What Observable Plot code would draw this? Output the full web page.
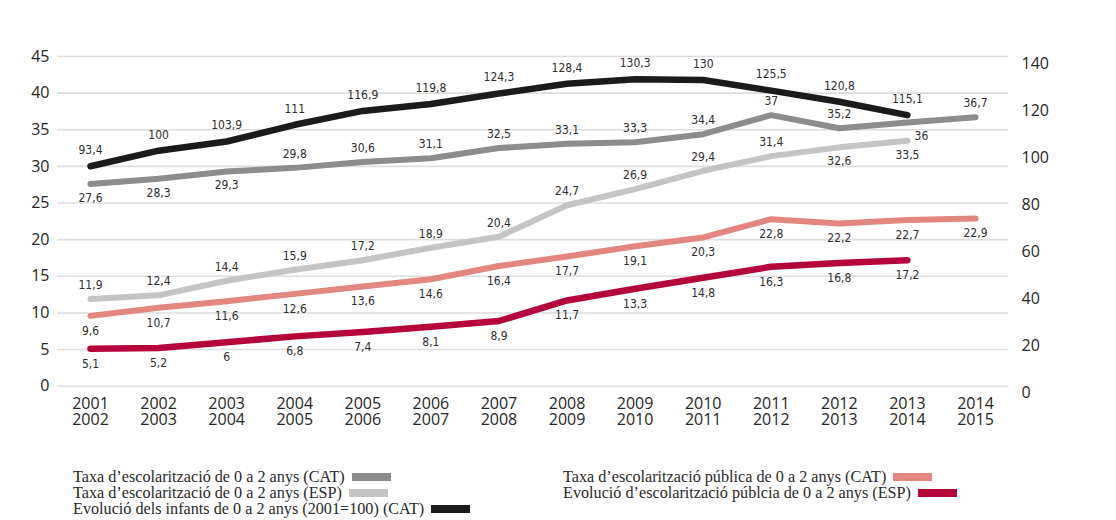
<!DOCTYPE html>
<html>
<head>
<meta charset="utf-8">
<script src="https://cdn.jsdelivr.net/npm/d3@7"></script>
<script src="https://cdn.jsdelivr.net/npm/@observablehq/plot@0.6"></script>
<style>
  html, body { margin: 0; padding: 0; background: #fff; }
  #wrap { position: relative; width: 1116px; height: 520px; overflow: hidden; background: #fff; }
  .leg { position: absolute; font-family: "Liberation Serif", "Times New Roman", serif; font-size: 16.2px; color: #2a2a2a; line-height: 16px; white-space: nowrap; }
  .leg div { height: 16px; }
  .sw { display: inline-block; width: 39px; height: 8px; margin-left: 7px; vertical-align: middle; position: relative; top: -1px; }
</style>
</head>
<body>
<div id="wrap"></div>
<script>
// ---- data ----
const years = [2001, 2002, 2003, 2004, 2005, 2006, 2007, 2008, 2009, 2010, 2011, 2012, 2013, 2014];
const xTickLabels = ["2001\n2002", "2002\n2003", "2003\n2004", "2004\n2005", "2005\n2006", "2006\n2007", "2007\n2008",
  "2008\n2009", "2009\n2010", "2010\n2011", "2011\n2012", "2012\n2013", "2013\n2014", "2014\n2015"];
const catRate = [27.6, 28.3, 29.3, 29.8, 30.6, 31.1, 32.5, 33.1, 33.3, 34.4, 37, 35.2, 36, 36.7];
const espRate = [11.9, 12.4, 14.4, 15.9, 17.2, 18.9, 20.4, 24.7, 26.9, 29.4, 31.4, 32.6, 33.5];
const catPublic = [9.6, 10.7, 11.6, 12.6, 13.6, 14.6, 16.4, 17.7, 19.1, 20.3, 22.8, 22.2, 22.7, 22.9];
const espPublic = [5.1, 5.2, 6, 6.8, 7.4, 8.1, 8.9, 11.7, 13.3, 14.8, 16.3, 16.8, 17.2];
const childrenIndex = [93.4, 100, 103.9, 111, 116.9, 119.8, 124.3, 128.4, 130.3, 130, 125.5, 120.8, 115.1];
const leftTicks = [0, 5, 10, 15, 20, 25, 30, 35, 40, 45];
const rightTicks = [0, 20, 40, 60, 80, 100, 120, 140];
const seriesNames = [
  "Taxa d\u2019escolarització de 0 a 2 anys (CAT)",
  "Taxa d\u2019escolarització de 0 a 2 anys (ESP)",
  "Evolució dels infants de 0 a 2 anys (2001=100) (CAT)",
  "Taxa d\u2019escolarització pública de 0 a 2 anys (CAT)",
  "Evolució d\u2019escolarització públcia de 0 a 2 anys (ESP)"
];

// ---- label placement (style): -1 above, 1 below ----
const sideCat = [1, 1, 1, -1, -1, -1, -1, -1, -1, -1, -1, -1, 1, -1];
const sideEsp = [-1, -1, -1, -1, -1, -1, -1, -1, -1, -1, -1, 1, 1];
const dxCat = [0, 0, 0, 0, 0, 0, 0, 0, 0, 0, 0, 0, 14, 0];

// right axis (0–140) mapped onto left axis (0–45)
const R = 45 / 140;

const colors = { cat: "#8c8c8c", esp: "#c4c4c4", idx: "#1b1b1b", catPub: "#e3867f", espPub: "#b5053b" };

function build(vals, key, side, dx, scale = 1) {
  return vals.map((v, i) => ({ year: years[i], v, y: v * scale, side: side ? side[i] : 1, dx: dx ? dx[i] : 0, key }));
}
const dCat = build(catRate, "cat", sideCat, dxCat);
const dEsp = build(espRate, "esp", sideEsp);
const dCatPub = build(catPublic, "catPub", null);
const dEspPub = build(espPublic, "espPub", null);
const dIdx = build(childrenIndex, "idx", childrenIndex.map(() => -1), null, R);

const fmt = v => String(v).replace(".", ",");

function lineMark(data, color, w) {
  return Plot.line(data, { x: "year", y: "y", stroke: color, strokeWidth: w, strokeLinejoin: "round" });
}
function labelMarks(data, off) {
  const above = data.filter(d => d.side < 0), below = data.filter(d => d.side > 0);
  const base = { x: "year", y: "y", text: d => fmt(d.v), fill: "#2e2e2e", fontFamily: "DejaVu Sans Condensed, DejaVu Sans, sans-serif", fontSize: 12 };
  return [
    ...above.map(d => Plot.text([d], { ...base, dy: -off, dx: d.dx })),
    ...below.map(d => Plot.text([d], { ...base, dy: off, dx: d.dx }))
  ];
}

const chart = Plot.plot({
  width: 1116,
  height: 440,
  marginLeft: 57,
  marginRight: 108,
  marginTop: 56,
  marginBottom: 54.3,
  x: { domain: [years[0], years[years.length - 1]], range: [90, 975] },
  y: { domain: [0, 45] },
  style: { fontFamily: "Open Sans, sans-serif", fontSize: "16px", color: "#262626", background: "#fff", overflow: "visible" },
  marks: [
    Plot.ruleY(leftTicks, { stroke: "#dedede", strokeWidth: 1.6 }),
    Plot.axisY({ ticks: leftTicks, tickSize: 0, tickPadding: 8, label: null, fontSize: 16 }),
    Plot.axisY({ anchor: "right", ticks: rightTicks.map(v => v * R), tickFormat: d => Math.round(d / R), tickSize: 0, tickPadding: 13, dy: 7, label: null, fontSize: 16 }),
    Plot.axisX({ ticks: years, tickFormat: d => xTickLabels[years.indexOf(d)], tickSize: 0, tickPadding: 11.6, lineHeight: 1, label: null, fontSize: 16 }),
    lineMark(dCat, colors.cat, 6),
    lineMark(dEsp, colors.esp, 6),
    lineMark(dCatPub, colors.catPub, 6),
    lineMark(dEspPub, colors.espPub, 6.5),
    lineMark(dIdx, colors.idx, 6.5),
    ...labelMarks(dCat, 14),
    ...labelMarks(dEsp, 14),
    ...labelMarks(dCatPub, 15),
    ...labelMarks(dEspPub, 15),
    ...labelMarks(dIdx, 16)
  ]
});

const wrap = document.getElementById("wrap");
wrap.appendChild(chart);

function legendCol(left, top, items) {
  const col = document.createElement("div");
  col.className = "leg";
  col.style.left = left + "px";
  col.style.top = top + "px";
  items.forEach(([name, color]) => {
    const row = document.createElement("div");
    const t = document.createElement("span");
    t.textContent = name;
    const sw = document.createElement("span");
    sw.className = "sw";
    sw.style.background = color;
    row.appendChild(t);
    row.appendChild(sw);
    col.appendChild(row);
  });
  wrap.appendChild(col);
}
legendCol(73, 469, [[seriesNames[0], colors.cat], [seriesNames[1], colors.esp], [seriesNames[2], colors.idx]]);
legendCol(563, 469, [[seriesNames[3], colors.catPub], [seriesNames[4], colors.espPub]]);
</script>
</body>
</html>
